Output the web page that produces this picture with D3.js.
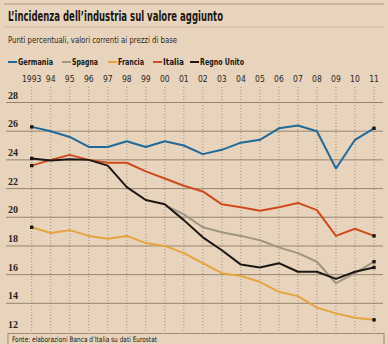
<!DOCTYPE html>
<html>
<head>
<meta charset="utf-8">
<script src="https://cdn.jsdelivr.net/npm/d3@7"></script>
<style>
  html, body { margin: 0; padding: 0; background: #e8d4bc; }
  svg { display: block; }
</style>
</head>
<body>
<script>
const width = 388;
const height = 344;

const years = d3.range(1993, 2012);
const yearLabels = ['1993', '94', '95', '96', '97', '98', '99', '00', '01', '02', '03', '04', '05', '06', '07', '08', '09', '10', '11'];
const yTicks = [12, 14, 16, 18, 20, 22, 24, 26, 28];

const germania = [26.3, 26.0, 25.6, 24.9, 24.9, 25.3, 24.9, 25.3, 25.0, 24.4, 24.7, 25.2, 25.4, 26.2, 26.4, 26.0, 23.4, 25.4, 26.2];
const spagna = [null, null, null, null, null, null, null, 20.85, 20.2, 19.3, 18.95, 18.7, 18.4, 17.9, 17.5, 16.9, 15.4, 16.1, 16.9];
const francia = [19.3, 18.9, 19.1, 18.7, 18.5, 18.7, 18.2, 18.0, 17.5, 16.8, 16.1, 15.9, 15.5, 14.8, 14.5, 13.7, 13.3, 13.0, 12.85];
const italia = [23.6, 24.0, 24.35, 24.0, 23.8, 23.8, 23.2, 22.7, 22.2, 21.8, 20.9, 20.7, 20.45, 20.7, 21.0, 20.5, 18.7, 19.2, 18.7];
const regnoUnito = [24.1, 23.95, 24.05, 24.0, 23.6, 22.1, 21.2, 20.9, 19.8, 18.6, 17.7, 16.7, 16.5, 16.8, 16.2, 16.2, 15.7, 16.2, 16.5];

const series = [
  { name: 'Germania', values: germania, color: '#1f6a9a', startDot: true },
  { name: 'Spagna', values: spagna, color: '#a09684', startDot: false },
  { name: 'Francia', values: francia, color: '#e6a440', startDot: true },
  { name: 'Italia', values: italia, color: '#cf4a1c', startDot: true },
  { name: 'Regno Unito', values: regnoUnito, color: '#1a1714', startDot: true }
];
// draw order: back to front
const drawOrder = ['Francia', 'Spagna', 'Italia', 'Regno Unito', 'Germania'];

const svg = d3.select('body').append('svg')
  .attr('width', width)
  .attr('height', height);

const x = d3.scaleLinear().domain([1993, 2011]).range([31.7, 374]);
const y = d3.scaleLinear().domain([12, 28]).range([332, 102.5]);

const sans = "'DejaVu Sans Condensed', 'DejaVu Sans', sans-serif";

// header rules
svg.append('line').attr('x1', 4).attr('x2', 384).attr('y1', 4).attr('y2', 4)
  .attr('stroke', '#9a8a76').attr('stroke-width', 0.8);
svg.append('line').attr('x1', 4).attr('x2', 384).attr('y1', 27).attr('y2', 27)
  .attr('stroke', '#b8a68e').attr('stroke-width', 0.6);

svg.append('text')
  .attr('x', 8).attr('y', 21)
  .attr('font-family', sans)
  .attr('font-weight', 'bold')
  .attr('font-size', 14.5)
  .attr('fill', '#1a1612')
  .attr('textLength', 215)
  .attr('lengthAdjust', 'spacingAndGlyphs')
  .text('L\u2019incidenza dell\u2019industria sul valore aggiunto');

svg.append('text')
  .attr('x', 8).attr('y', 43)
  .attr('font-family', sans)
  .attr('font-size', 9.5)
  .attr('fill', '#2a2420')
  .attr('textLength', 169)
  .attr('lengthAdjust', 'spacingAndGlyphs')
  .text('Punti percentuali, valori correnti ai prezzi di base');

// legend
const legendX = [8, 62, 108, 153, 190];
const legendW = [44, 35, 35, 30, 53];
const legend = svg.append('g').attr('transform', 'translate(0, 62)');
series.forEach((s, i) => {
  const g = legend.append('g').attr('transform', `translate(${legendX[i]}, 0)`);
  g.append('line').attr('x1', 0).attr('x2', 9).attr('y1', 0).attr('y2', 0)
    .attr('stroke', s.color).attr('stroke-width', 2);
  g.append('text')
    .attr('x', 10).attr('y', 3)
    .attr('font-family', sans)
    .attr('font-weight', 'bold')
    .attr('font-size', 8.5)
    .attr('fill', '#1a1612')
    .attr('textLength', legendW[i] - 10 + 1)
    .attr('lengthAdjust', 'spacingAndGlyphs')
    .text(s.name);
});

// year labels on top
svg.append('g')
  .selectAll('text')
  .data(years)
  .join('text')
  .attr('x', d => x(d))
  .attr('y', 82)
  .attr('text-anchor', 'middle')
  .attr('font-family', sans)
  .attr('font-size', 8.5)
  .attr('fill', '#2a2420')
  .text((d, i) => yearLabels[i]);

// vertical dotted grid
svg.append('g')
  .selectAll('line')
  .data(years)
  .join('line')
  .attr('x1', d => x(d)).attr('x2', d => x(d))
  .attr('y1', 87).attr('y2', y(12))
  .attr('stroke', '#6e6152')
  .attr('stroke-width', 0.6)
  .attr('stroke-dasharray', '1,2');

// horizontal grid and value labels
const grid = svg.append('g');
grid.selectAll('line')
  .data(yTicks.filter(d => d > 12))
  .join('line')
  .attr('x1', 6).attr('x2', 383)
  .attr('y1', d => y(d)).attr('y2', d => y(d))
  .attr('stroke', '#8e7c68')
  .attr('stroke-width', 0.9);
grid.selectAll('text')
  .data(yTicks)
  .join('text')
  .attr('x', 8)
  .attr('y', d => y(d) - 4)
  .attr('font-family', "'Liberation Serif', 'DejaVu Serif', serif")
  .attr('font-weight', 'bold')
  .attr('font-size', 10)
  .attr('fill', '#2a2420')
  .text(d => d);

// series lines
const line = d3.line()
  .defined(d => d != null)
  .x((d, i) => x(years[i]))
  .y(d => y(d));

const lines = svg.append('g');
drawOrder.forEach(name => {
  const s = series.find(t => t.name === name);
  lines.append('path')
    .datum(s.values)
    .attr('fill', 'none')
    .attr('stroke', s.color)
    .attr('stroke-width', 2)
    .attr('stroke-linejoin', 'round')
    .attr('d', line);
});

// end markers
const dots = [];
series.forEach(s => {
  if (s.startDot) dots.push({ year: years[0], value: s.values[0] });
  dots.push({ year: years[years.length - 1], value: s.values[s.values.length - 1] });
});
svg.append('g')
  .selectAll('rect')
  .data(dots)
  .join('rect')
  .attr('x', d => x(d.year) - 1.7)
  .attr('y', d => y(d.value) - 1.7)
  .attr('width', 3.4)
  .attr('height', 3.4)
  .attr('fill', '#1a1714');

// source box
svg.append('rect')
  .attr('x', 8).attr('y', y(12) + 1.5)
  .attr('width', 376).attr('height', 20)
  .attr('fill', 'none')
  .attr('stroke', '#8e7c68')
  .attr('stroke-width', 0.8);
svg.append('text')
  .attr('x', 12).attr('y', y(12) + 10)
  .attr('font-family', sans)
  .attr('font-size', 7.5)
  .attr('fill', '#1a1612')
  .attr('textLength', 145)
  .attr('lengthAdjust', 'spacingAndGlyphs')
  .text('Fonte: elaborazioni Banca d\u2019Italia su dati Eurostat');
</script>
</body>
</html>
